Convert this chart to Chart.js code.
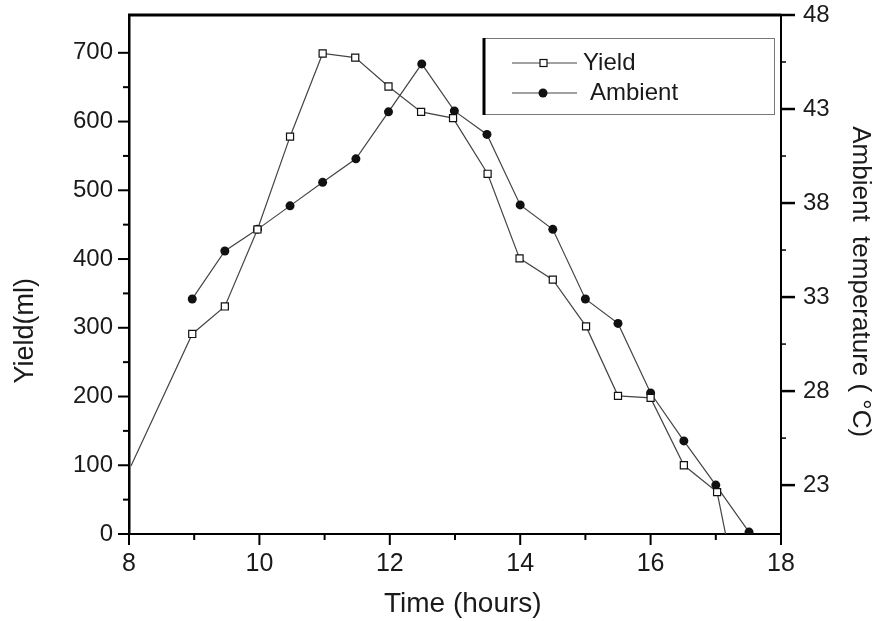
<!DOCTYPE html>
<html><head><meta charset="utf-8">
<script src="https://cdn.jsdelivr.net/npm/chart.js@4.4.0/dist/chart.umd.min.js"></script>
<style>html,body{margin:0;padding:0;background:#fff;} #wrap{width:876px;height:621px;position:relative;}</style>
</head><body><div id="wrap"><canvas id="c" width="876" height="621"></canvas></div>
<script>
// ---- data ----
const yieldTimes    = [8.03, 8.97, 9.47, 9.97, 10.47, 10.97, 11.47, 11.98, 12.48, 12.97, 13.5, 13.99, 14.5, 15.01, 15.5, 16.0, 16.51, 17.02, 17.15];
const yieldValues   = [99, 291, 331, 443, 578, 699, 693, 651, 614, 605, 524, 401, 370, 302, 201, 198, 100, 61, 0];
const ambientTimes  = [8.97, 9.47, 9.97, 10.47, 10.97, 11.48, 11.98, 12.49, 12.99, 13.49, 14.0, 14.5, 15.0, 15.5, 16.0, 16.51, 17.0, 17.51];
const ambientValues = [32.9, 35.45, 36.6, 37.85, 39.1, 40.35, 42.85, 45.4, 42.9, 41.65, 37.9, 36.6, 32.9, 31.6, 27.9, 25.35, 23.0, 20.5];
const xTicks = [8, 10, 12, 14, 16, 18];
const xMinorTicks = [9, 11, 13, 15, 17];
const yieldTicks = [0, 100, 200, 300, 400, 500, 600, 700];
const yieldMinorTicks = [50, 150, 250, 350, 450, 550, 650];
const tempTicks = [23, 28, 33, 38, 43, 48];
const tempMinorTicks = [25.5, 30.5, 35.5, 40.5, 45.5];
const seriesLabels = ['Yield', 'Ambient'];
const xTitle = 'Time (hours)';
const yTitle = 'Yield(ml)';
const y2Title = 'Ambient  temperature ( \u00B0C)';

const NARROW = "'Liberation Sans Narrow', 'Liberation Sans', Arial, sans-serif";
const SANS = "'Liberation Sans', Arial, sans-serif";
const TXT = '#1a1a1a';
const pad = n => '\u00A0'.repeat(n);

const yieldPts = yieldTimes.map((t, i) => ({x: t, y: yieldValues[i]}));
const ambPts = ambientTimes.map((t, i) => ({x: t, y: ambientValues[i]}));
const yieldRadius = yieldTimes.map((t, i) => (i === 0 || i === yieldTimes.length - 1) ? 0 : 5);

const noPad = s => { s.paddingTop = 0; s.paddingBottom = 0; s.paddingLeft = 0; s.paddingRight = 0; };

const framePlugin = {
  id: 'frame',
  afterDraw(chart) {
    const {ctx, chartArea: a, scales} = chart;
    ctx.save();
    ctx.strokeStyle = '#000';
    ctx.lineCap = 'butt';
    const line = (x1, y1, x2, y2, w) => { ctx.lineWidth = w; ctx.beginPath(); ctx.moveTo(x1, y1); ctx.lineTo(x2, y2); ctx.stroke(); };
    // top frame
    line(a.left - 1, a.top, a.right, a.top, 3);
    xTicks.forEach(v => { const x = scales.x.getPixelForValue(v); line(x, a.bottom, x, a.bottom + 11, 2); });
    xMinorTicks.forEach(v => { const x = scales.x.getPixelForValue(v); line(x, a.bottom, x, a.bottom + 6, 2); });
    yieldTicks.forEach(v => { const y = scales.y.getPixelForValue(v); line(a.left - 11, y, a.left, y, 2); });
    yieldMinorTicks.forEach(v => { const y = scales.y.getPixelForValue(v); line(a.left - 6, y, a.left, y, 2); });
    tempTicks.forEach(v => { const y = scales.y2.getPixelForValue(v); line(a.right, y, a.right + 14, y, 2.5); });
    tempMinorTicks.forEach(v => { const y = scales.y2.getPixelForValue(v); line(a.right, y, a.right + 5, y, 1.5); });

    // legend
    const L = 483, T = 38, R = 775, B = 115;
    ctx.fillStyle = '#fff';
    ctx.fillRect(L, T, R - L, B - T);
    ctx.strokeStyle = '#777';
    ctx.lineWidth = 1;
    ctx.strokeRect(L + 0.5, T + 0.5, R - L - 1, B - T - 1);
    ctx.strokeStyle = '#000';
    line(L + 1, T, L + 1, B, 3);
    const rows = [63, 93];
    ctx.font = "24px " + SANS;
    ctx.textBaseline = 'middle';
    ctx.textAlign = 'left';
    // Yield row
    ctx.strokeStyle = '#444';
    line(512, rows[0], 577, rows[0], 1.2);
    ctx.fillStyle = '#fff';
    ctx.strokeStyle = '#111';
    ctx.lineWidth = 1.2;
    ctx.fillRect(540, rows[0] - 3.5, 7, 7);
    ctx.strokeRect(540, rows[0] - 3.5, 7, 7);
    ctx.fillStyle = TXT;
    ctx.fillText(seriesLabels[0], 583, rows[0]);
    // Ambient row
    ctx.strokeStyle = '#444';
    line(512, rows[1], 577, rows[1], 1.2);
    ctx.fillStyle = '#111';
    ctx.beginPath(); ctx.arc(543, rows[1], 4.5, 0, Math.PI * 2); ctx.fill();
    ctx.fillStyle = TXT;
    ctx.fillText(seriesLabels[1], 590, rows[1]);
    ctx.restore();
  }
};

new Chart(document.getElementById('c'), {
  type: 'scatter',
  data: {
    datasets: [
      {
        label: seriesLabels[0], data: yieldPts, yAxisID: 'y', showLine: true,
        borderColor: '#444', borderWidth: 1.2,
        pointStyle: 'rect', pointRadius: yieldRadius, pointBackgroundColor: '#fff',
        pointBorderColor: '#111', pointBorderWidth: 1.2, tension: 0
      },
      {
        label: seriesLabels[1], data: ambPts, yAxisID: 'y2', showLine: true,
        borderColor: '#444', borderWidth: 1.2,
        pointStyle: 'circle', pointRadius: 4.5, pointBackgroundColor: '#111',
        pointBorderColor: '#111', pointBorderWidth: 0, tension: 0
      }
    ]
  },
  options: {
    responsive: false,
    animation: false,
    devicePixelRatio: 1,
    layout: {padding: {top: 15, left: 0, right: 0, bottom: 0}},
    plugins: {legend: {display: false}, tooltip: {enabled: false}},
    scales: {
      x: {
        type: 'linear', position: 'bottom', min: 8, max: 18,
        afterBuildTicks: s => { s.ticks = xTicks.map(v => ({value: v})); },
        afterFit: s => { s.height = 87; noPad(s); },
        ticks: {font: {family: NARROW, size: 25}, color: TXT, padding: 4, maxRotation: 0, autoSkip: false},
        grid: {display: true, drawOnChartArea: false, drawTicks: true, tickLength: 11, color: 'rgba(0,0,0,0)'},
        border: {display: true, color: '#000', width: 2},
        title: {display: true, text: pad(2) + xTitle, font: {family: SANS, size: 28}, color: TXT, padding: 0}
      },
      y: {
        type: 'linear', position: 'left', min: 0, max: 755,
        afterBuildTicks: s => { s.ticks = yieldTicks.map(v => ({value: v})); },
        afterFit: s => { s.width = 129; noPad(s); },
        ticks: {font: {family: SANS, size: 24}, color: TXT, padding: 5, autoSkip: false},
        grid: {display: true, drawOnChartArea: false, drawTicks: true, tickLength: 11, color: 'rgba(0,0,0,0)'},
        border: {display: true, color: '#000', width: 2.5},
        title: {display: true, text: yTitle + pad(15), font: {family: SANS, size: 27}, color: TXT, padding: {top: 9, bottom: 0}}
      },
      y2: {
        type: 'linear', position: 'right', min: 20.4, max: 48,
        afterBuildTicks: s => { s.ticks = tempTicks.map(v => ({value: v})); },
        afterFit: s => { s.width = 95; noPad(s); },
        ticks: {font: {family: SANS, size: 24}, color: TXT, padding: 8, autoSkip: false},
        grid: {display: true, drawOnChartArea: false, drawTicks: true, tickLength: 14, color: 'rgba(0,0,0,0)'},
        border: {display: true, color: '#000', width: 2},
        title: {display: true, text: pad(2) + y2Title, font: {family: SANS, size: 26}, color: TXT, padding: {top: 0, bottom: 0}}
      }
    }
  },
  plugins: [framePlugin]
});
</script>
</body></html>
